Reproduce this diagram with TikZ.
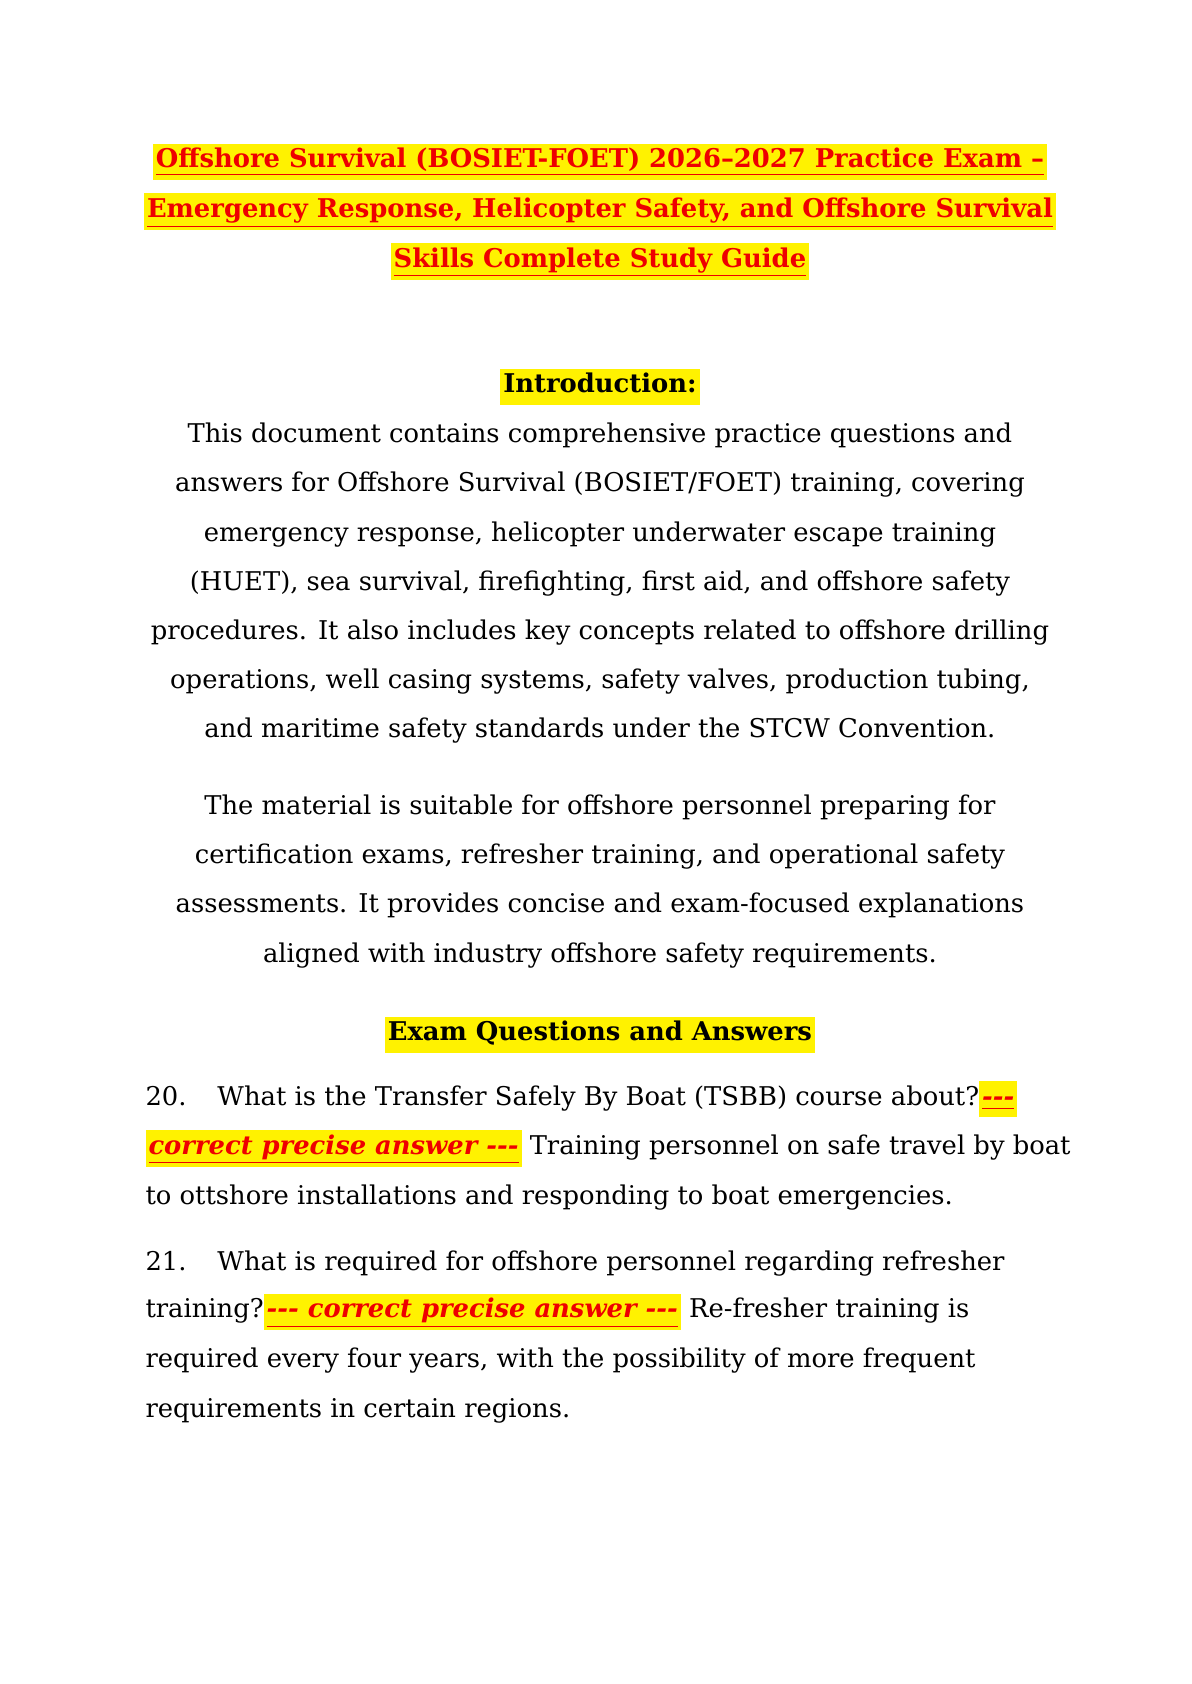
\documentclass[tikz,border=0pt]{standalone}
\usepackage{fontspec}
\setmainfont{DejaVu Serif}
\usepackage{xcolor}
\definecolor{hlred}{RGB}{238,0,0}
\newcommand\hl[1]{{\setlength\fboxsep{1.5pt}\colorbox{yellow}{\strut #1}}}
\newcommand\ans[1]{\hl{\textcolor{hlred}{\bfseries\itshape\underline{#1}}}}
\newcommand\ttl[1]{\hl{\textcolor{hlred}{\bfseries\underline{#1}}}}
\newcommand\dsh{-{}-{}-}
\tikzset{
    cline/.style={anchor=mid, inner sep=0pt, font=\fontsize{12.9}{15}\selectfont}, % centred line
    lline/.style={anchor=mid west, inner sep=0pt, font=\fontsize{12.9}{15}\selectfont} % left line
}
\begin{document}
\begin{tikzpicture}[x=0.5413pt, y=-0.5413pt]
    \useasboundingbox (0,0) rectangle (1100,1555);
    % title
    \node[cline] (t1) at (554,150) {\ttl{Offshore Survival (BOSIET-FOET) 2026–2027 Practice Exam –}};
    \node[cline] (t2) at (554,196) {\ttl{Emergency Response, Helicopter Safety, and Offshore Survival}};
    \node[cline] (t3) at (554,242) {\ttl{Skills Complete Study Guide}};
    % introduction
    \node[cline] (intro) at (554,358) {\hl{\bfseries Introduction:}};
    \foreach \txt [count=\i from 0] in {
        This document contains comprehensive practice questions and,
        answers for Offshore Survival (BOSIET/FOET) training{,} covering,
        emergency response{,} helicopter underwater escape training,
        (HUET){,} sea survival{,} firefighting{,} first aid{,} and offshore safety,
        procedures. It also includes key concepts related to offshore drilling,
        operations{,} well casing systems{,} safety valves{,} production tubing{,},
        and maritime safety standards under the STCW Convention.}
        {\node[cline] (p\i) at (554,404+45.4*\i) {\txt};}
    \foreach \txt [count=\i from 0] in {
        The material is suitable for offshore personnel preparing for,
        certification exams{,} refresher training{,} and operational safety,
        assessments. It provides concise and exam-focused explanations,
        aligned with industry offshore safety requirements.}
        {\node[cline] (q\i) at (554,747+45.6*\i) {\txt};}
    \node[cline] (exam) at (554,956) {\hl{\bfseries Exam Questions and Answers}};
    % questions
    \node[lline] (a1) at (134,1016) {20.\hspace{1.2em}What is the Transfer Safely By Boat (TSBB) course about?\ans{\dsh}};
    \node[lline] (a2) at (134,1061) {\ans{correct precise answer \dsh} Training personnel on safe travel by boat};
    \node[lline] (a3) at (134,1107) {to ottshore installations and responding to boat emergencies.};
    \node[lline] (b1) at (134,1168) {21.\hspace{1.2em}What is required for offshore personnel regarding refresher};
    \node[lline] (b2) at (134,1212) {training?\ans{\dsh{} correct precise answer \dsh} Re-fresher training is};
    \node[lline] (b3) at (134,1258) {required every four years, with the possibility of more frequent};
    \node[lline] (b4) at (134,1304) {requirements in certain regions.};
\end{tikzpicture}
\end{document}
